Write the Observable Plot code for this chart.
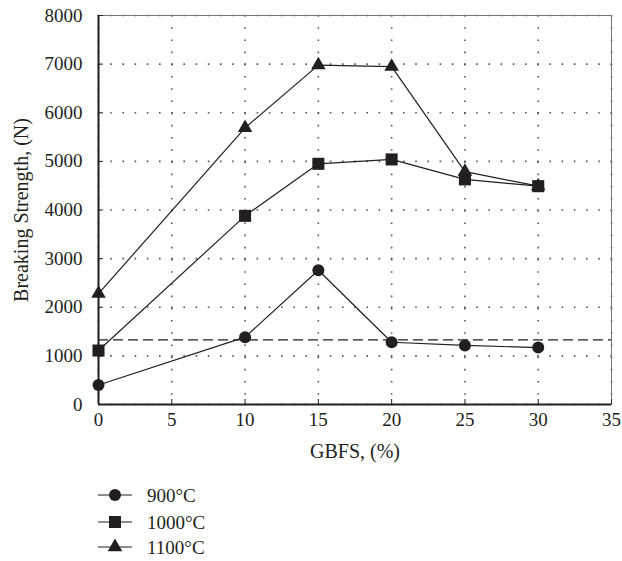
<!DOCTYPE html>
<html>
<head>
<meta charset="utf-8">
<script src="https://cdn.jsdelivr.net/npm/d3@7"></script>
<script src="https://cdn.jsdelivr.net/npm/@observablehq/plot@0.6"></script>
<style>
  body { margin: 0; background: #fff; }
  #chart svg { display: block; }
  #legend { display: block; }
</style>
</head>
<body>
<div id="chart"></div>
<script>
// GBFS content (%) and breaking strength (N) for each firing temperature
const gbfs = [0, 10, 15, 20, 25, 30];
const strength900 = [400, 1385, 2760, 1280, 1215, 1170];
const strength1000 = [1110, 3880, 4950, 5040, 4630, 4490];
const strength1100 = [2280, 5690, 6980, 6950, 4790, 4490];
const seriesNames = ["900°C", "1000°C", "1100°C"];
const seriesSymbols = ["circle", "square", "triangle"];
const referenceStrength = 1330;
const xTicks = [0, 5, 10, 15, 20, 25, 30, 35];
const yTicks = [0, 1000, 2000, 3000, 4000, 5000, 6000, 7000, 8000];

const ink = "#231f20";
const font = "'Liberation Serif', 'DejaVu Serif', serif";
const tickFont = 19;
const labelFont = 20;
// marker radius per symbol, so circles, squares and triangles read at a similar size
const markerRadius = {circle: 6, square: 6.8, triangle: 5.4};

const seriesValues = [strength900, strength1000, strength1100];
const rows = seriesNames.flatMap((name, i) =>
  gbfs.map((g, j) => ({series: name, gbfs: g, strength: seriesValues[i][j]}))
);

const dotted = {stroke: "#555", strokeOpacity: 1, strokeWidth: 1.6, strokeDasharray: "1.6,10.6"};
const plain = (d) => String(d);

const markerMarks = seriesNames.map((name, i) =>
  Plot.dot(rows.filter((d) => d.series === name), {
    x: "gbfs", y: "strength", symbol: seriesSymbols[i],
    r: markerRadius[seriesSymbols[i]], fill: ink, stroke: "none"
  })
);

const chart = Plot.plot({
  width: 622,
  height: 465,
  marginLeft: 98,
  marginRight: 11,
  marginTop: 15,
  marginBottom: 61,
  style: {fontFamily: font, fontSize: `${tickFont}px`, color: ink, background: "#fff"},
  x: {domain: [0, 35], ticks: xTicks, label: "GBFS, (%)"},
  y: {domain: [0, 8000], ticks: yTicks, label: "Breaking Strength, (N)"},
  marks: [
    Plot.gridX(xTicks, dotted),
    Plot.gridY(yTicks, dotted),
    Plot.frame({stroke: "#777", strokeWidth: 1}),
    Plot.ruleY([referenceStrength], {stroke: ink, strokeWidth: 1.3, strokeDasharray: "10,5"}),
    Plot.line(rows, {x: "gbfs", y: "strength", z: "series", stroke: ink, strokeWidth: 1.2}),
    ...markerMarks,
    Plot.axisX(xTicks, {
      anchor: "bottom", tickSize: -5, tickPadding: 13, stroke: ink, fill: ink,
      fontSize: tickFont, fontFamily: font, tickFormat: plain, label: null
    }),
    Plot.axisX({
      anchor: "bottom", ticks: [], tickSize: 0, fill: ink, fontSize: labelFont, fontFamily: font,
      label: "GBFS, (%)", labelAnchor: "center", labelArrow: "none", labelOffset: 53
    }),
    Plot.axisY(yTicks, {
      anchor: "left", tickSize: -5, tickPadding: 21, stroke: ink, fill: ink,
      fontSize: tickFont, fontFamily: font, tickFormat: plain, label: null
    }),
    Plot.axisY({
      anchor: "left", ticks: [], tickSize: 0, fill: ink, fontSize: labelFont, fontFamily: font,
      label: "Breaking Strength, (N)", labelAnchor: "center", labelArrow: "none", labelOffset: 85
    }),
    Plot.ruleX([0], {stroke: ink, strokeWidth: 2}),
    Plot.ruleY([0], {stroke: ink, strokeWidth: 2})
  ]
});
document.getElementById("chart").appendChild(chart);

// Legend: line with marker, then the temperature label
const legendW = 622, legendH = 96;
const legend = d3.select("body").append("svg")
  .attr("id", "legend")
  .attr("width", legendW)
  .attr("height", legendH);
const symbolTypes = {circle: d3.symbolCircle, square: d3.symbolSquare, triangle: d3.symbolTriangle};
const rowsY = [30, 57, 82];
seriesNames.forEach((name, i) => {
  const sym = seriesSymbols[i];
  const r = markerRadius[sym];
  const g = legend.append("g").attr("transform", `translate(0,${rowsY[i]})`);
  g.append("line").attr("x1", 98).attr("x2", 132).attr("y1", 0).attr("y2", 0)
    .attr("stroke", ink).attr("stroke-width", 1.2);
  g.append("path")
    .attr("transform", "translate(115,0)")
    .attr("d", d3.symbol(symbolTypes[sym], r * r * Math.PI)())
    .attr("fill", ink);
  g.append("text").attr("x", 147).attr("y", 0).attr("dy", "0.35em")
    .attr("font-family", font).attr("font-size", tickFont).attr("fill", ink)
    .text(name);
});
</script>
</body>
</html>
